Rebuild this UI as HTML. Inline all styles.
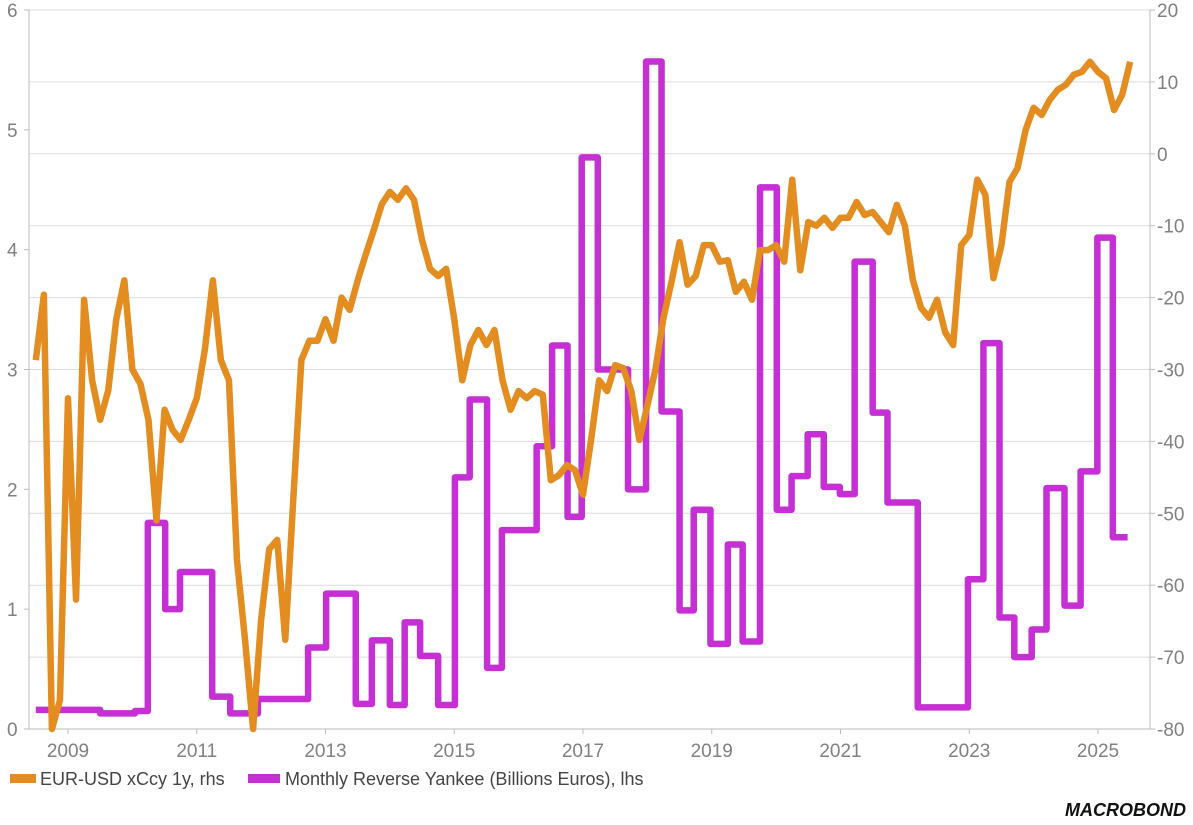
<!DOCTYPE html>
<html><head><meta charset="utf-8"><style>
body{margin:0;background:#fff;width:1193px;height:820px;overflow:hidden}
svg text{font-family:"Liberation Sans",sans-serif}
</style></head><body>
<svg id="chart" width="1193" height="820">
<g id="grid"></g>
<g id="axes"></g>
<g id="series"></g>
<g>
<rect x="10" y="774" width="26" height="9" fill="#E38C1F"/>
<text x="40" y="785" font-size="18" fill="#444">EUR-USD xCcy 1y, rhs</text>
<rect x="248" y="774" width="32" height="9" fill="#C52FD4"/>
<text x="285" y="785" font-size="18" fill="#444">Monthly Reverse Yankee (Billions Euros), lhs</text>
</g>
<text x="1186" y="816" font-size="18" font-weight="bold" font-style="italic" fill="#111" text-anchor="end">MACROBOND</text>
</svg>
<script>
const yearTicks=[2009,2011,2013,2015,2017,2019,2021,2023,2025];
const lhsTicks=[0,1,2,3,4,5,6];
const rhsTicks=[20,10,0,-10,-20,-30,-40,-50,-60,-70,-80];
const xccyStart=2008.5;
const xccyStep=0.125;
const xccyValues=[-28.7,-19.6,-80,-76,-34,-62,-20.3,-31.5,-37,-32.9,-23,-17.6,-30,-32,-37,-51,-35.6,-38.4,-39.8,-37,-34,-27.3,-17.6,-28.7,-31.5,-56.5,-67.6,-80,-64.8,-55,-53.7,-67.6,-48,-28.7,-26,-26,-23,-26,-20,-21.7,-17.6,-14,-10.6,-7,-5.3,-6.4,-4.8,-6.4,-12,-16,-17,-16,-23,-31.5,-26.6,-24.5,-26.6,-24.5,-31.5,-35.6,-33,-34,-33,-33.5,-45.4,-44.7,-43.3,-44,-47.4,-39.8,-31.5,-33,-29.4,-29.8,-33,-39.8,-35,-30,-22.8,-17.8,-12.3,-18.2,-17,-12.7,-12.7,-15,-14.8,-19.2,-17.8,-20.3,-13.4,-13.4,-12.7,-15,-3.6,-16.2,-9.5,-10,-8.9,-10.3,-8.9,-8.9,-6.7,-8.5,-8.1,-9.5,-10.9,-7.1,-10,-17.6,-21.4,-22.8,-20.3,-24.8,-26.6,-12.7,-11.3,-3.6,-5.7,-17.3,-12.7,-3.9,-2,3.3,6.4,5.4,7.5,8.9,9.6,11,11.4,12.8,11.4,10.5,6.1,8.2,12.8];
const yankeeDates=[2008.5,2009.5,2010.04,2010.24,2010.51,2010.74,2011.24,2011.52,2011.95,2012.73,2013.01,2013.47,2013.72,2014.0,2014.23,2014.47,2014.75,2015.01,2015.24,2015.51,2015.74,2016.28,2016.52,2016.76,2016.98,2017.23,2017.7,2017.98,2018.22,2018.5,2018.72,2018.98,2019.25,2019.48,2019.75,2020.01,2020.24,2020.49,2020.74,2020.99,2021.22,2021.5,2021.73,2022.2,2022.98,2023.22,2023.47,2023.7,2023.97,2024.2,2024.48,2024.73,2024.99,2025.23];
const yankeeValues=[0.16,0.13,0.15,1.72,1.0,1.31,0.27,0.13,0.25,0.68,1.13,0.21,0.74,0.2,0.89,0.61,0.2,2.1,2.75,0.51,1.66,2.36,3.2,1.77,4.77,3.0,2.0,5.57,2.65,0.99,1.83,0.71,1.54,0.73,4.52,1.83,2.11,2.46,2.02,1.96,3.9,2.64,1.89,0.18,1.25,3.22,0.93,0.6,0.83,2.01,1.03,2.15,4.1,1.6];
const yankeeEnd=2025.46;

const X0=29,X1=1150,TOP=10,BOT=729;
const xS=t=>68+(t-2009)*64.375;
const yL=v=>BOT-(v/6)*(BOT-TOP);
const yR=v=>BOT-((v+80)/100)*(BOT-TOP);
const NS="http://www.w3.org/2000/svg";
function mk(tag,attrs,parent,txt){const e=document.createElementNS(NS,tag);for(const k in attrs)e.setAttribute(k,attrs[k]);if(txt!==undefined)e.textContent=txt;parent.appendChild(e);return e;}
const grid=document.getElementById('grid'),axes=document.getElementById('axes'),series=document.getElementById('series');
rhsTicks.forEach(v=>{
 const y=yR(v);
 if(v>-80){const l=mk('line',{x1:X0,x2:X1,y1:y,y2:y,stroke:'#dcdcdc','stroke-width':1},grid);
 
 }
 mk('line',{x1:X1,x2:X1+5,y1:y,y2:y,stroke:'#bbb'},axes);
 const t=mk('text',{x:1157,y:y+7,'font-size':19,fill:'#808080'},axes,String(v));
 
 
});
lhsTicks.forEach(v=>{
 const y=yL(v);
 mk('line',{x1:X0-5,x2:X0,y1:y,y2:y,stroke:'#bbb'},axes);
 const t=mk('text',{x:7,y:y+7,'font-size':19,fill:'#808080'},axes,String(v));
 
 
});
mk('line',{x1:X0,x2:X0,y1:TOP,y2:BOT,stroke:'#bbb'},axes);
mk('line',{x1:X1,x2:X1,y1:TOP,y2:BOT,stroke:'#bbb'},axes);
mk('line',{x1:X0,x2:X1,y1:BOT,y2:BOT,stroke:'#bbb'},axes);
yearTicks.forEach(yr=>{
 const x=xS(yr);
 mk('line',{x1:x,x2:x,y1:BOT,y2:BOT+5,stroke:'#bbb'},axes);
 const t=mk('text',{x:x,y:BOT+28,'font-size':19,fill:'#808080','text-anchor':'middle'},axes,String(yr));
 
 
});
let d='';
yankeeDates.forEach((t,i)=>{
 const y=yL(yankeeValues[i]);
 const xa=xS(t), xb=xS(i<yankeeDates.length-1?yankeeDates[i+1]:yankeeEnd);
 d+=(i===0?'M':'L')+xa+','+y+'L'+xb+','+y;
});
const p1=mk('path',{d:d,fill:'none',stroke:'#C52FD4','stroke-width':6.5,'stroke-linejoin':'round'},series);


let d2='';
xccyValues.forEach((v,i)=>{d2+=(i===0?'M':'L')+xS(xccyStart+i*xccyStep)+','+yR(v);});
const p2=mk('path',{d:d2,fill:'none',stroke:'#E38C1F','stroke-width':6.5,'stroke-linejoin':'round'},series);


</script>
</body></html>
